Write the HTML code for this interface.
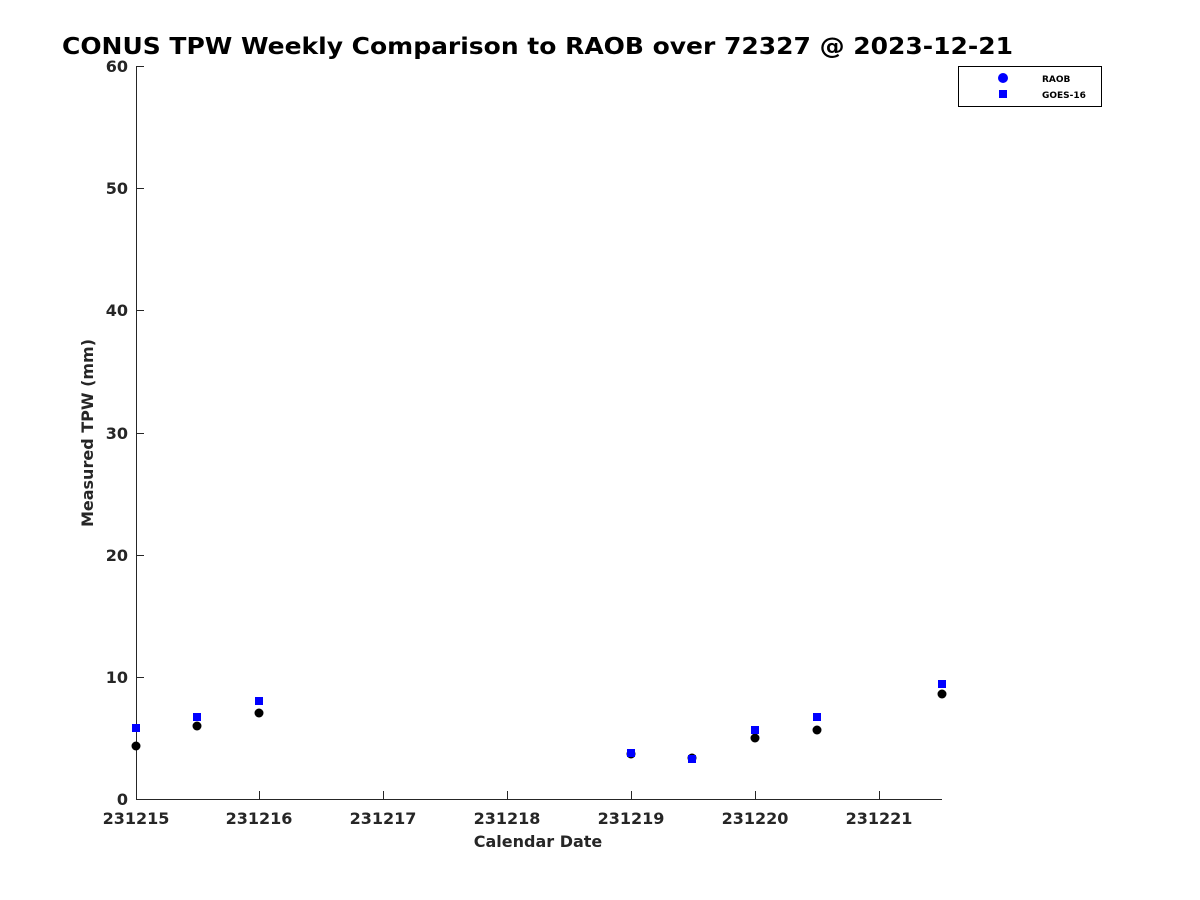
<!DOCTYPE html>
<html><head><style>body{margin:0;background:#fff}svg{display:block}text{font-family:"DejaVu Sans","Liberation Sans",sans-serif;font-weight:bold}</style></head>
<body>
<svg width="1200" height="900" xmlns="http://www.w3.org/2000/svg">
<rect width="1200" height="900" fill="#fff"/>
<text x="62" y="54" font-size="23" fill="#000" textLength="951" lengthAdjust="spacingAndGlyphs">CONUS TPW Weekly Comparison to RAOB over 72327 @ 2023-12-21</text>
<g stroke="#262626" stroke-width="1" fill="none">
<path d="M136.5 66 V799.5 H942"/>
<path d="M136 66.5h8M136 188.5h8M136 310.5h8M136 433.5h8M136 555.5h8M136 677.5h8"/>
<path d="M259.5 799v-8M383.5 799v-8M507.5 799v-8M631.5 799v-8M755.5 799v-8M879.5 799v-8"/>
</g>
<g font-size="16" fill="#262626" text-anchor="end">
<text x="128" y="805">0</text><text x="128" y="683">10</text><text x="128" y="561">20</text><text x="128" y="439">30</text><text x="128" y="316">40</text><text x="128" y="194">50</text><text x="128" y="72">60</text>
</g>
<g font-size="16" fill="#262626" text-anchor="middle">
<text x="136" y="824">231215</text><text x="259" y="824">231216</text><text x="383" y="824">231217</text><text x="507" y="824">231218</text><text x="631" y="824">231219</text><text x="755" y="824">231220</text><text x="879" y="824">231221</text>
<text x="538" y="847">Calendar Date</text>
<text transform="translate(93,433) rotate(-90)">Measured TPW (mm)</text>
</g>
<g fill="#000">
<circle cx="136" cy="746" r="4.5"/><circle cx="197" cy="726" r="4.5"/><circle cx="259" cy="713" r="4.5"/><circle cx="631" cy="754" r="4.5"/><circle cx="692" cy="758" r="4.5"/><circle cx="755" cy="738" r="4.5"/><circle cx="817" cy="730" r="4.5"/><circle cx="942" cy="694" r="4.5"/>
</g>
<g fill="#0000ff">
<rect x="132" y="724" width="8" height="8"/><rect x="193" y="713" width="8" height="8"/><rect x="255" y="697" width="8" height="8"/><rect x="627" y="749" width="8" height="8"/><rect x="688" y="755" width="8" height="8"/><rect x="751" y="726" width="8" height="8"/><rect x="813" y="713" width="8" height="8"/><rect x="938" y="680" width="8" height="8"/>
</g>
<rect x="958.5" y="66.5" width="143" height="40" fill="#fff" stroke="#000"/>
<circle cx="1003" cy="78" r="5" fill="#0000ff"/>
<rect x="999" y="90" width="8" height="8" fill="#0000ff"/>
<text x="1042" y="82" font-size="9" fill="#000">RAOB</text>
<text x="1042" y="98" font-size="9" fill="#000">GOES-16</text>
</svg>
</body></html>
